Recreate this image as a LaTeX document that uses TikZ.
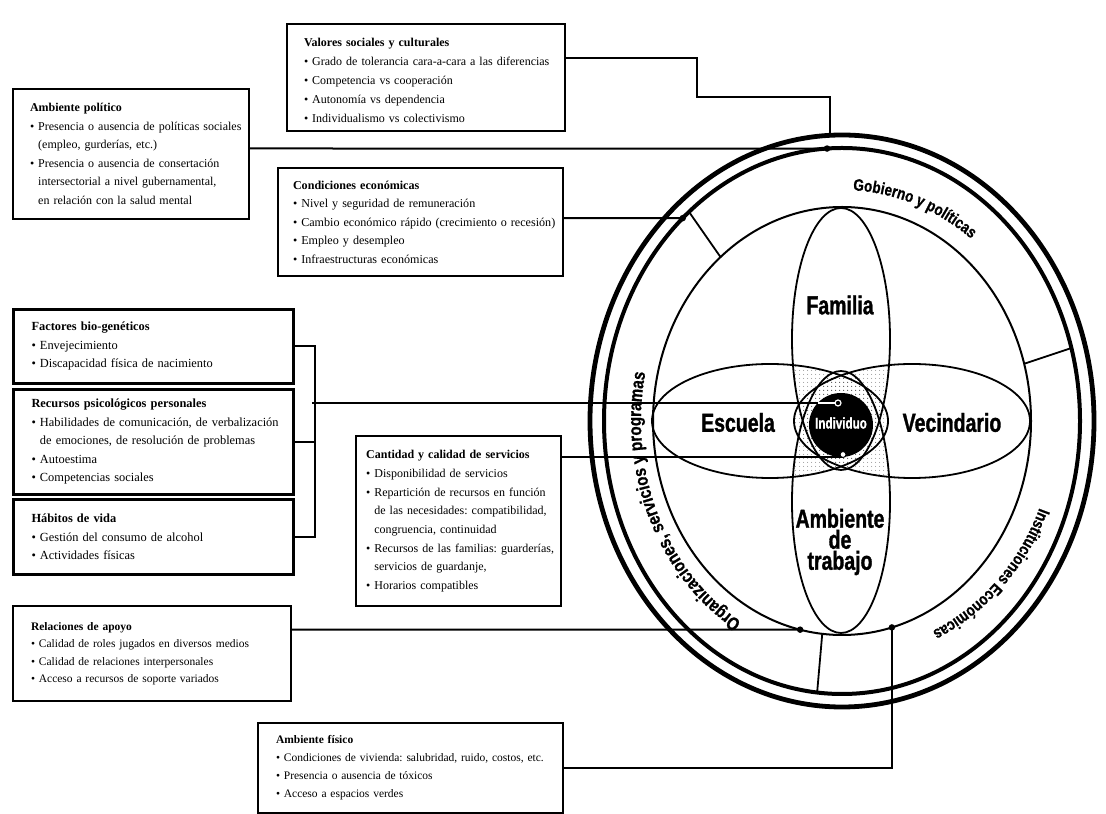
\documentclass[tikz,border=0pt]{standalone}
\usepackage{fontspec}
\setmainfont{Liberation Serif}
\newfontfamily\condfont[FakeStretch=0.75, BoldFeatures={FakeBold=1.2}]{Liberation Sans}
\newfontfamily\ringfont[FakeStretch=0.82, BoldFeatures={FakeBold=0.8}]{Liberation Sans}
\usetikzlibrary{calc,decorations.text,patterns.meta}
\frenchspacing
\newcommand\bitem[1]{\mbox{\textbullet\ #1}}
\newcommand\citem[1]{\mbox{\hphantom{\textbullet\ }#1}}
\newcommand\ringtxt{\ringfont\bfseries\fontsize{16.5}{16.5}\selectfont}
\newcommand\ringtxtb{\ringfont\bfseries\fontsize{18.5}{18.5}\selectfont}
\begin{document}
\begin{tikzpicture}[x=1pt,y=1pt,
  box/.style={draw, line width=2pt, anchor=north west, align=left, inner xsep=17pt, inner ysep=0pt},
  conn/.style={line width=2pt},
  petal/.style={line width=1.8pt},
  stip/.style={pattern={Dots[radius=0.55pt, distance=4pt]}, pattern color=black!60},
  dot/.style={circle, fill=black, inner sep=0pt, minimum size=6.5pt},
  petallabel/.style={font=\condfont\bfseries\fontsize{26}{21}\selectfont, align=center, inner sep=0pt},
]
\path[use as bounding box, fill=white] (0,0) rectangle (1106,814);
\coordinate (C) at (842,393);

% ---------- boxes ----------
\node[box, text width=244pt, minimum height=107pt, font=\fontsize{12}{18.8}\selectfont] (valores) at (286,791)
 {\rule{0pt}{14pt}\textbf{Valores sociales y culturales}\\
  \bitem{Grado de tolerancia cara-a-cara a las diferencias}\\
  \bitem{Competencia vs cooperación}\\
  \bitem{Autonomía vs dependencia}\\
  \bitem{Individualismo vs colectivismo}};
\node[box, text width=202pt, inner xsep=17pt, minimum height=130pt, font=\fontsize{12}{18.5}\selectfont] (polit) at (12,726)
 {\textbf{Ambiente político}\\
  \bitem{Presencia o ausencia de políticas sociales}\\
  \citem{(empleo, gurderías, etc.)}\\
  \bitem{Presencia o ausencia de consertación}\\
  \citem{intersectorial a nivel gubernamental,}\\
  \citem{en relación con la salud mental}};
\node[box, text width=255pt, inner xsep=15pt, minimum height=108pt, font=\fontsize{12.1}{18.5}\selectfont] (cond) at (277,647)
 {\textbf{Condiciones económicas}\\
  \bitem{Nivel y seguridad de remuneración}\\
  \bitem{Cambio económico rápido (crecimiento o recesión)}\\
  \bitem{Empleo y desempleo}\\
  \bitem{Infraestructuras económicas}};
\node[box, line width=3pt, text width=244pt, inner xsep=18pt, minimum height=74pt, font=\fontsize{12.4}{18.5}\selectfont] (fact) at (12,506)
 {\textbf{Factores bio-genéticos}\\
  \bitem{Envejecimiento}\\
  \bitem{Discapacidad física de nacimiento}};
\node[box, line width=3pt, text width=244pt, inner xsep=18pt, minimum height=105pt, font=\fontsize{12.4}{18.5}\selectfont] (rec) at (12,426)
 {\textbf{Recursos psicológicos personales}\\
  \bitem{Habilidades de comunicación, de verbalización}\\
  \citem{de emociones, de resolución de problemas}\\
  \bitem{Autoestima}\\
  \bitem{Competencias sociales}};
\node[box, line width=3pt, text width=244pt, inner xsep=18pt, minimum height=75pt, font=\fontsize{12.4}{18.5}\selectfont] (hab) at (12,316)
 {\textbf{Hábitos de vida}\\
  \bitem{Gestión del consumo de alcohol}\\
  \bitem{Actividades físicas}};
\node[box, line width=2.4pt, text width=185pt, inner xsep=10pt, minimum height=170pt, font=\fontsize{12}{18.7}\selectfont] (cant) at (355,379)
 {\textbf{Cantidad y calidad de servicios}\\
  \bitem{Disponibilidad de servicios}\\
  \bitem{Repartición de recursos en función}\\
  \citem{de las necesidades: compatibilidad,}\\
  \citem{congruencia, continuidad}\\
  \bitem{Recursos de las familias: guarderías,}\\
  \citem{servicios de guardanje,}\\
  \bitem{Horarios compatibles}};
\node[box, text width=242pt, inner xsep=18pt, minimum height=95pt, font=\fontsize{11.5}{17.5}\selectfont] (rel) at (12,209)
 {\textbf{Relaciones de apoyo}\\
  \bitem{Calidad de roles jugados en diversos medios}\\
  \bitem{Calidad de relaciones interpersonales}\\
  \bitem{Acceso a recursos de soporte variados}};
\node[box, text width=269pt, inner xsep=18pt, minimum height=90pt, font=\fontsize{11.5}{18}\selectfont] (fis) at (257,92)
 {\textbf{Ambiente físico}\\
  \bitem{Condiciones de vivienda: salubridad, ruido, costos, etc.}\\
  \bitem{Presencia o ausencia de tóxicos}\\
  \bitem{Acceso a espacios verdes}};

% ---------- stippled overlaps ----------
\begin{scope}
  \clip (770,393) ellipse [x radius=118, y radius=57];
  \path[stip] (912,393) ellipse [x radius=118, y radius=57];
  \path[stip] (841,475) ellipse [x radius=49, y radius=131];
  \path[stip] (841,312) ellipse [x radius=49, y radius=131];
\end{scope}
\begin{scope}
  \clip (912,393) ellipse [x radius=118, y radius=57];
  \path[stip] (841,475) ellipse [x radius=49, y radius=131];
  \path[stip] (841,312) ellipse [x radius=49, y radius=131];
\end{scope}
\begin{scope}
  \clip (841,475) ellipse [x radius=49, y radius=131];
  \path[stip] (841,312) ellipse [x radius=49, y radius=131];
\end{scope}

% ---------- petals ----------
\draw[petal] (841,475) ellipse [x radius=49, y radius=131];
\draw[petal] (841,312) ellipse [x radius=49, y radius=131];
\draw[petal] (770,393) ellipse [x radius=118, y radius=57];
\draw[petal] (912,393) ellipse [x radius=118, y radius=57];

% ---------- ring points ----------
\coordinate (vend) at ($(C)+(92.7:252 and 286)$);
\coordinate (vk1) at (697,756);
\coordinate (vk2) at (697,717);
\coordinate (bj) at (312,411);
\coordinate (indin) at (838,411);
\coordinate (indbot) at (843,357);
\coordinate (fk) at (0,46);

% ---------- connectors ----------
\draw[conn] (valores.east |- vk1) -- (vk1) -- (vk2) -| (vend);
\draw[conn] (polit.east |- 0,665.5) -- ($(C)+(93.6:238 and 273)$);
\draw[conn] (cond.east |- 0,595.9) -- ($(C)+(132:238 and 273)$);
\draw[conn] (fact.east) -- ++(20,0) |- (hab.east);
\draw[conn] (rec.east) -- ++(20,0);
\draw[conn] (bj) -- (indin);
\draw[conn] (cant.east |- indbot) -- (indbot);
\draw[conn] (rel.east |- 0,184.4) -- ($(C)+(257.2:189 and 214)$);
\draw[conn] (fis.east |- fk) -| ($(C)+(285.3:189 and 214)$);

% ---------- rings ----------
\draw[line width=2pt] (C) ellipse [x radius=189, y radius=214];
\draw[line width=4pt] (C) ellipse [x radius=238, y radius=273];
\draw[line width=4.8pt] (C) ellipse [x radius=252, y radius=286];
\draw[line width=1.8pt] ($(C)+(130:238 and 273)$) -- ($(C)+(130:189 and 214)$);
\draw[line width=1.8pt] ($(C)+(15.5:238 and 273)$) -- ($(C)+(15.5:189 and 214)$);
\draw[line width=1.8pt] ($(C)+(264:238 and 273)$) -- ($(C)+(264:189 and 214)$);

% ---------- dots ----------
\node[dot] (dpol) at ($(C)+(93.6:238 and 273)$) {};
\node[dot] (dcond) at ($(C)+(132:238 and 273)$) {};
\node[dot] (drel) at ($(C)+(257.2:189 and 214)$) {};
\node[dot] (dfis) at ($(C)+(285.3:189 and 214)$) {};

% ---------- individuo ----------
\node[circle, fill=black, minimum size=64pt, inner sep=0pt] (ind) at (841,389) {};
\draw[white, line width=1.8pt] (817.8,411) -- (indin);
\filldraw[fill=black, draw=white, line width=1.2pt] (indin) circle (3);
\filldraw[fill=white, draw=black, line width=1pt] (843,359.5) circle (3);
\node[text=white, font=\condfont\bfseries\fontsize{15.5}{15.5}\selectfont, inner sep=0pt] (indtxt) at (841,391) {Individuo};

% ---------- petal labels ----------
\node[petallabel] (fam) at (840,509) {Familia};
\node[petallabel] (esc) at (738,391.5) {Escuela};
\node[petallabel] (vec) at (952,391.5) {Vecindario};
\node[petallabel] (amb) at (840,272) {Ambiente\\de\\trabajo};

% ---------- ring labels ----------
\path[decorate, decoration={text along path, text align={left indent=0pt},
  text={|\ringtxt|Gobierno y políticas}}]
  ($(C)+(87:210 and 231)$) arc[start angle=87, end angle=20, x radius=210, y radius=231];
\path[decorate, decoration={text along path, text align={left indent=0pt},
  text={|\ringtxt|Instituciones Económicas}}]
  ($(C)+(-22:213 and 232)$) arc[start angle=-22, end angle=-95, x radius=213, y radius=232];
\path[decorate, decoration={text along path, text align={left indent=0pt},
  text={|\ringtxtb|Organizaciones, servicios y programas}}]
  ($(C)+(240:201 and 232)$) arc[start angle=240, end angle=130, x radius=201, y radius=232];
\end{tikzpicture}
\end{document}
